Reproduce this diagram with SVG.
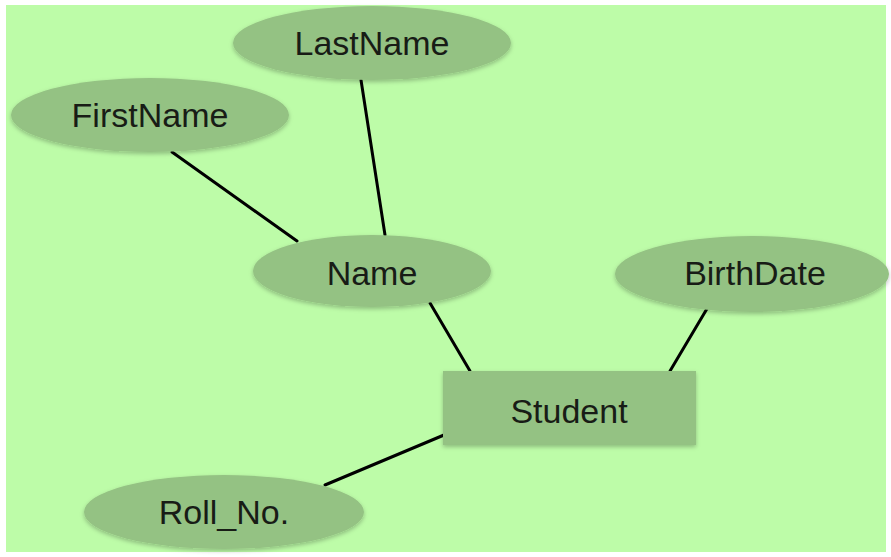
<svg xmlns="http://www.w3.org/2000/svg" width="891" height="557" viewBox="0 0 891 557">
<defs>
<filter id="sh" x="-10%" y="-10%" width="120%" height="130%">
<feDropShadow dx="0" dy="2" stdDeviation="2" flood-color="#000" flood-opacity="0.25"/>
</filter>
</defs>
<style>
.attr{fill:#94c283;filter:url(#sh)}
.ent{fill:#94c283;filter:url(#sh)}
.lbl{font-family:"Liberation Sans",Arial,sans-serif;font-size:34px;fill:#181c16;text-anchor:middle}
.conn line{stroke:#000;stroke-width:3;stroke-linecap:round}
</style>
<rect x="0" y="0" width="891" height="557" fill="#ffffff"/>
<rect x="6" y="5" width="880" height="547" fill="#bdfca8"/>
<g id="connectors" class="conn">
<line x1="172" y1="152" x2="297" y2="241"/>
<line x1="361" y1="80" x2="385" y2="235"/>
<line x1="430" y1="303" x2="470" y2="371"/>
<line x1="708" y1="307" x2="670" y2="371"/>
<line x1="444" y1="435" x2="325" y2="485"/>
</g>
<g id="lastname">
<ellipse class="attr" cx="372" cy="43" rx="139" ry="37"/>
<text class="lbl" x="372" y="55">LastName</text>
</g>
<g id="firstname">
<ellipse class="attr" cx="150" cy="115" rx="139" ry="37"/>
<text class="lbl" x="150" y="127">FirstName</text>
</g>
<g id="name">
<ellipse class="attr" cx="372" cy="271" rx="119" ry="36"/>
<text class="lbl" x="372" y="285">Name</text>
</g>
<g id="birthdate">
<ellipse class="attr" cx="752" cy="274" rx="137" ry="38"/>
<text class="lbl" x="755" y="285">BirthDate</text>
</g>
<g id="student">
<rect class="ent" x="443" y="371" width="253" height="74"/>
<text class="lbl" x="569" y="423">Student</text>
</g>
<g id="rollno">
<ellipse class="attr" cx="224" cy="512" rx="140" ry="37"/>
<text class="lbl" x="224" y="524">Roll_No.</text>
</g>
</svg>
